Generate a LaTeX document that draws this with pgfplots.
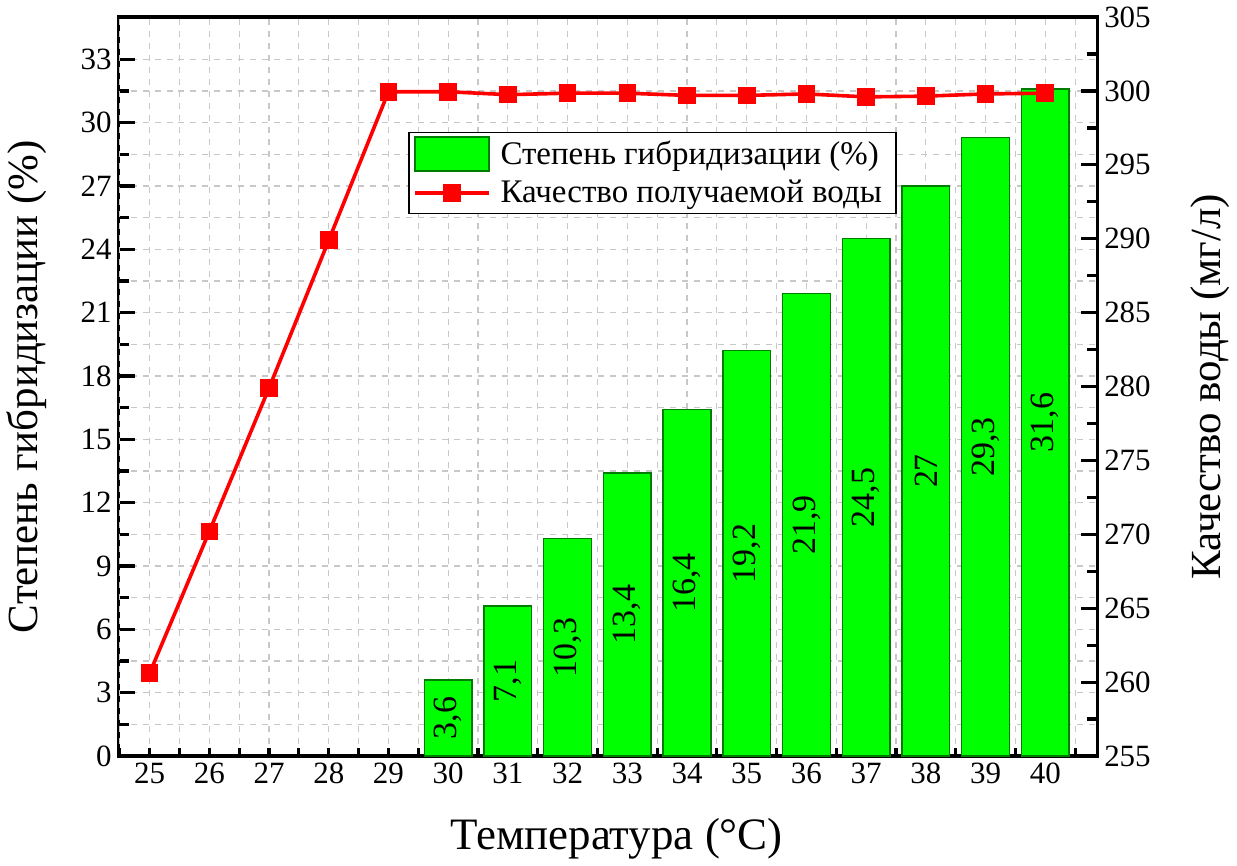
\documentclass[border=0pt]{standalone}
\usepackage{fontspec}
\setmainfont{Liberation Serif}
\usepackage{pgfplots}
\usepackage{pgfplotstable}
\pgfplotsset{compat=1.18}
\definecolor{barfill}{RGB}{0,255,0}
\definecolor{baredge}{RGB}{0,125,0}
\definecolor{gridc}{RGB}{200,200,200}

\pgfplotsset{
  barleg/.style={legend image code/.code={\draw[##1] (0pt,-8.5pt) rectangle (37pt,8.5pt);}},
  lineleg/.style={legend image code/.code={\draw[mark repeat=2,mark phase=2,##1] plot coordinates {(0pt,0pt) (18.5pt,0pt) (37pt,0pt)};}},
}

\pgfplotstableread{
x y
30 3.6
31 7.1
32 10.3
33 13.4
34 16.4
35 19.2
36 21.9
37 24.5
38 27
39 29.3
40 31.6
}\bars

\pgfplotstableread{
x q
25 260.6
26 270.2
27 279.9
28 289.9
29 299.95
30 299.95
31 299.75
32 299.85
33 299.85
34 299.7
35 299.7
36 299.8
37 299.6
38 299.65
39 299.8
40 299.85
}\quality

\begin{document}
\begin{tikzpicture}
\pgfplotsset{
  common/.style={
    scale only axis, width=490pt, height=370pt,
    xmin=24.48, xmax=40.87,
    /pgf/number format/assume math mode=true,
    tick label style={font=\fontsize{15.5}{17}\selectfont},
    label style={font=\fontsize{21.5}{24}\selectfont},
    axis line style={line width=1.6pt},
    tick align=inside,
    major tick style={line width=1.6pt, black},
    minor tick style={line width=1.6pt, black},
    major tick length=8pt, minor tick length=5pt,
  }
}
\begin{axis}[common,
  ymin=0, ymax=35,
  ytick={0,3,...,33}, minor y tick num=1,
  xtick={25,26,...,40},
  xtick style={/pgfplots/major tick length=4pt},
  extra x ticks={24.5,25.5,...,40.5},
  extra x tick labels={},
  extra x tick style={grid=major, /pgfplots/major tick length=0pt},
  xtick pos=bottom, ytick pos=left,
  grid=both,
  major grid style={dashed, gridc, line width=0.6pt},
  minor grid style={dashed, gridc, line width=0.6pt},
  xlabel={Температура (°C)},
  xlabel style={at={(axis description cs:0.509,-0.112)}, anchor=center, font=\fontsize{22.5}{25}\selectfont},
  ylabel={Степень гибридизации (\%)},
  ylabel style={at={(axis description cs:-0.094,0.5)}, anchor=center},
]
\addplot[ybar, bar width=0.8, fill=barfill, draw=baredge, line width=0.7pt,
  nodes near coords={\pgfmathprintnumber[use comma]{\pgfplotspointmeta}},
  visualization depends on={rawy \as \rawy},
  every node near coord/.append style={yshift={-5.2857pt*\rawy}, rotate=90, anchor=center, font=\fontsize{17}{19}\selectfont, text=black}
] table[x=x, y=y] {\bars};
\end{axis}

\begin{axis}[common,
  ymin=255, ymax=305,
  ytick={255,260,...,305}, minor y tick num=1,
  axis y line*=right, axis x line=none,
  ylabel={Качество воды (мг/л)},
  ylabel style={at={(axis description cs:1.115,0.5)}, anchor=center},
  legend style={at={(0.296,0.845)}, anchor=north west, draw=black, line width=0.8pt,
    font=\fontsize{16.5}{19}\selectfont, fill=white, inner xsep=2pt, inner ysep=2pt,
    row sep=2pt, cells={anchor=west}, nodes={inner xsep=5pt}},
]
\addlegendimage{fill=barfill, draw=baredge, line width=0.8pt, barleg}
\addlegendentry{Степень гибридизации (\%)}
\addplot[red, line width=1.8pt, mark=square*, mark size=3.5pt, mark options={solid}, lineleg] table[x=x, y=q] {\quality};
\addlegendentry{Качество получаемой воды}
\end{axis}
\path (current axis.south west) ++(-58.5pt,-54pt);
\path (current axis.north east) ++(70pt,8.5pt);
\end{tikzpicture}
\end{document}
